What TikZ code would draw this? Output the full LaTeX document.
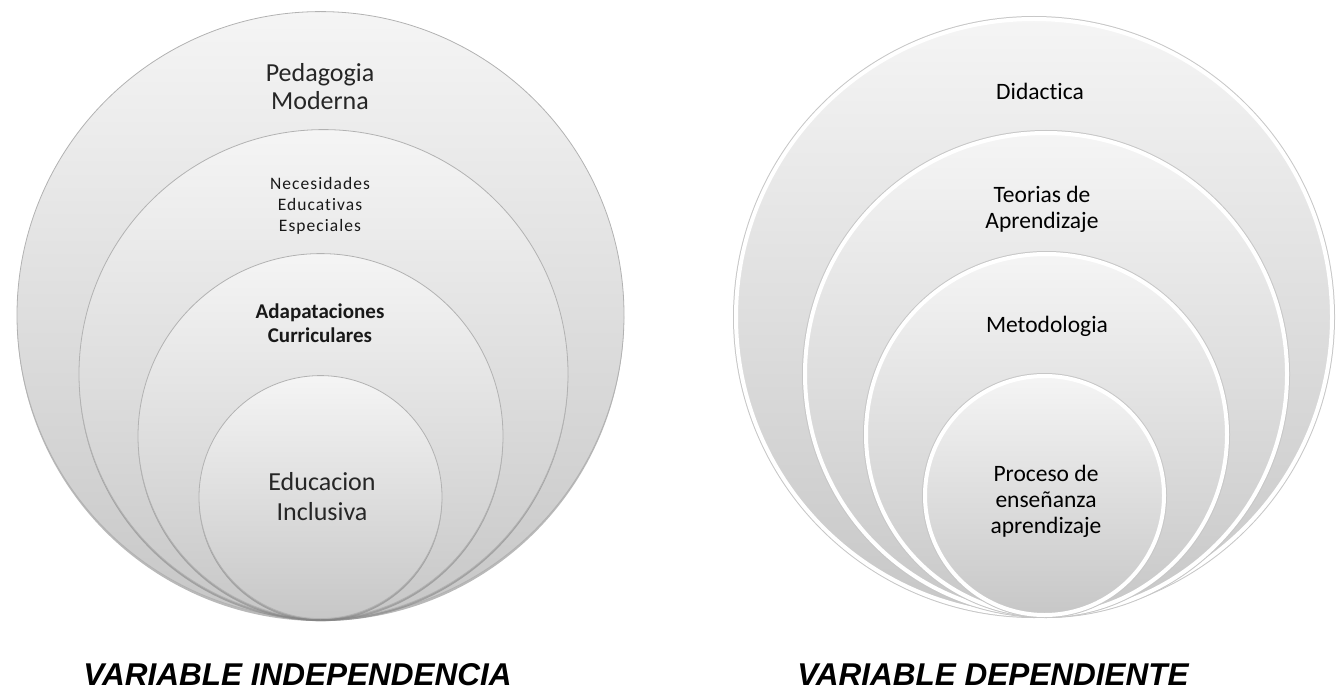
\documentclass[tikz,border=0pt]{standalone}
\usepackage{fontspec}
\setmainfont{Carlito}[Ligatures={NoCommon}]
\newfontfamily\capfont{Liberation Sans}
\usetikzlibrary{shadows}

\begin{document}
\begin{tikzpicture}[
                x=1pt, y=-1pt,
                disc/.style={circle, inner sep=0pt, anchor=south, minimum size=#1,
                    top color=black!4, bottom color=black!22},
                ldisc/.style={disc=#1, draw=black!30, line width=0.8pt,
                    drop shadow={shadow xshift=0pt, shadow yshift=-2.5pt, opacity=0.55}},
                rdisc/.style={disc=#1, draw=white, line width=4pt,
                    drop shadow={shadow xshift=0pt, shadow yshift=-2.5pt, opacity=0.55},
                    preaction={draw=black!22, line width=6pt}},
                lbl/.style={align=center, inner sep=0pt},
                varlabel/.style={anchor=base, font=\capfont\bfseries\itshape\fontsize{31.5}{36}\selectfont}
            ]
                \useasboundingbox (0,0) rectangle (1336,690);

                % Left: nested discs
                \node[ldisc=607pt] (pm) at (320.5,619) {};
                \node[ldisc=489pt] (nee) at (323.5,619) {};
                \node[ldisc=365pt] (ac) at (320.5,619) {};
                \node[ldisc=243pt] (ei) at (320.5,619) {};

                \node[lbl, text=black!85, font=\fontsize{26}{28}\selectfont] (pmtxt) at (320,87) {Pedagogia\\Moderna};
                \node[lbl, text=black!90, font={\fontsize{17.5}{21}\selectfont\addfontfeatures{LetterSpace=6}}] (neetxt) at (320,206) {Necesidades\\Educativas\\Especiales};
                \node[lbl, text=black!90, font=\fontsize{21}{24}\selectfont\bfseries] (actxt) at (320,323) {Adapataciones\\Curriculares};
                \node[lbl, text=black!85, font=\fontsize{26}{30}\selectfont] (eitxt) at (322,497) {Educacion\\Inclusiva};

                % Right: nested discs
                \node[rdisc=596pt] (di) at (1034,617) {};
                \node[rdisc=482pt] (ta) at (1046,617) {};
                \node[rdisc=361pt] (me) at (1046.5,617) {};
                \node[rdisc=239pt] (pe) at (1044.5,617) {};

                \node[lbl, font=\fontsize{23.5}{26}\selectfont] (ditxt) at (1040,91) {Didactica};
                \node[lbl, font=\fontsize{23.5}{26}\selectfont] (tatxt) at (1042,209) {Teorias de\\Aprendizaje};
                \node[lbl, font=\fontsize{23.5}{26}\selectfont] (metxt) at (1047,326) {Metodologia};
                \node[lbl, font=\fontsize{23.5}{26}\selectfont] (petxt) at (1046,501) {Proceso de\\enseñanza\\aprendizaje};

                % Captions
                \node[varlabel] (indep) at (297.5,685) {VARIABLE INDEPENDENCIA};
                \node[varlabel] (dep) at (993,685) {VARIABLE DEPENDIENTE};
            \end{tikzpicture}
\end{document}
